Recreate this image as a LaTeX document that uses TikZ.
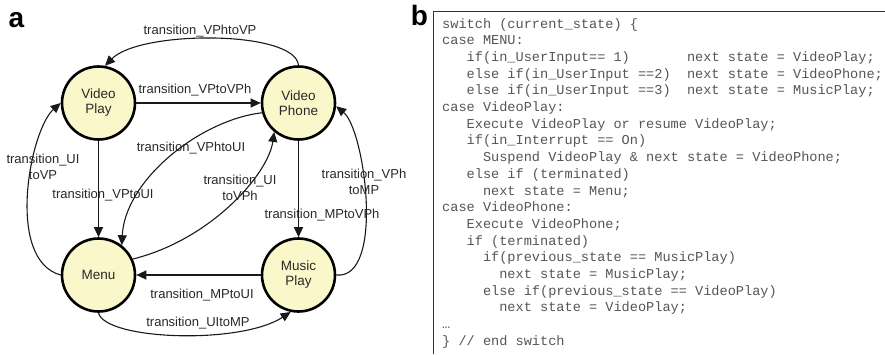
\documentclass[tikz,border=0pt]{standalone}
\usepackage{fontspec}
\setmainfont{Liberation Sans}
\setmonofont{Liberation Mono}
\usetikzlibrary{arrows.meta}

\definecolor{statefill}{RGB}{250,248,202}
\definecolor{codegray}{RGB}{85,85,85}
\definecolor{labelgray}{RGB}{40,40,40}
% indent by n characters of the mono font
\newcommand{\ind}[1]{\hspace*{#1\fontcharwd\font`x}}

\begin{document}
\begin{tikzpicture}[x=1pt, y=-1pt,
    state/.style={circle, draw=black, line width=2.6pt, fill=statefill, minimum size=73pt,
        inner sep=0pt, align=center, text=labelgray, font=\fontsize{13.5}{15}\selectfont},
    trans/.style={draw=black!90, line width=1.1pt, -{Triangle[length=10pt,width=9pt]}},
    lbl/.style={text=labelgray, align=center, inner sep=0pt, font=\fontsize{13}{16.5}\selectfont},
    panel/.style={inner sep=0pt, font=\bfseries\fontsize{28}{28}\selectfont},
    code/.style={inner sep=0pt, align=left, text=codegray, font=\ttfamily\fontsize{13.6}{16.7}\selectfont}]
    \useasboundingbox (0,0) rectangle (885,354);

    % panel a: state machine
    \node[panel, anchor=base] (la) at (16.5,27) {a};
    \node[state] (vp) at (98.5,103) {Video\\Play};
    \node[state] (vph) at (298.5,103) {Video\\Phone};
    \node[state] (menu) at (98.5,275) {Menu};
    \node[state] (mp) at (298.5,275) {Music\\Play};

    \draw[trans] (vph.north) .. controls (295,30) and (140,30) .. (vp.80);
    \draw[trans] (vp) -- (vph);
    \draw[trans] (vp) -- (menu);
    \draw[trans] (menu.west) .. controls (5,260) and (30,130) .. (vp.west);
    \draw[trans] (vph.195) .. controls (200,120) and (125,180) .. (menu.52);
    \draw[trans] (menu.25) .. controls (210,240) and (268,175) .. (vph.230);
    \draw[trans] (vph) -- (mp);
    \draw[trans] (mp.east) .. controls (385,280) and (365,130) .. (vph.-5);
    \draw[trans] (mp) -- (menu);
    \draw[trans] (menu.south) .. controls (105,340) and (240,345) .. (mp.258);

    \node[lbl] (t1) at (200,31) {transition\_VPhtoVP};
    \node[lbl] (t2) at (195,90) {transition\_VPtoVPh};
    \node[lbl] (t3) at (43,167) {transition\_UI\\toVP};
    \node[lbl] (t4) at (191,148) {transition\_VPhtoUI};
    \node[lbl] (t5) at (103,195) {transition\_VPtoUI};
    \node[lbl] (t6) at (240,188) {transition\_UI\\toVPh};
    \node[lbl] (t7) at (364,182) {transition\_VPh\\toMP};
    \node[lbl] (t8) at (322,215) {transition\_MPtoVPh};
    \node[lbl] (t9) at (202,295) {transition\_MPtoUI};
    \node[lbl] (t10) at (198,323) {transition\_UItoMP};

    % panel b: code listing (base = last line)
    \node[panel, anchor=base] (lb) at (419.5,25) {b};
    \draw[black!80, line width=1pt] (433,354) -- (433,11.5) -- (885,11.5);
    \node[code, anchor=base west] (src) at (442,345.3) {%
        switch (current\_state) \{\\
        case MENU:\\
        \ind{3}if(in\_UserInput== 1)\ind{7}next state = VideoPlay;\\
        \ind{3}else if(in\_UserInput ==2)\ind{2}next state = VideoPhone;\\
        \ind{3}else if(in\_UserInput ==3)\ind{2}next state = MusicPlay;\\
        case VideoPlay:\\
        \ind{3}Execute VideoPlay or resume VideoPlay;\\
        \ind{3}if(in\_Interrupt == On)\\
        \ind{5}Suspend VideoPlay \& next state = VideoPhone;\\
        \ind{3}else if (terminated)\\
        \ind{5}next state = Menu;\\
        case VideoPhone:\\
        \ind{3}Execute VideoPhone;\\
        \ind{3}if (terminated)\\
        \ind{5}if(previous\_state == MusicPlay)\\
        \ind{7}next state = MusicPlay;\\
        \ind{5}else if(previous\_state == VideoPlay)\\
        \ind{7}next state = VideoPlay;\\
        …\\
        \} // end switch};
\end{tikzpicture}
\end{document}
